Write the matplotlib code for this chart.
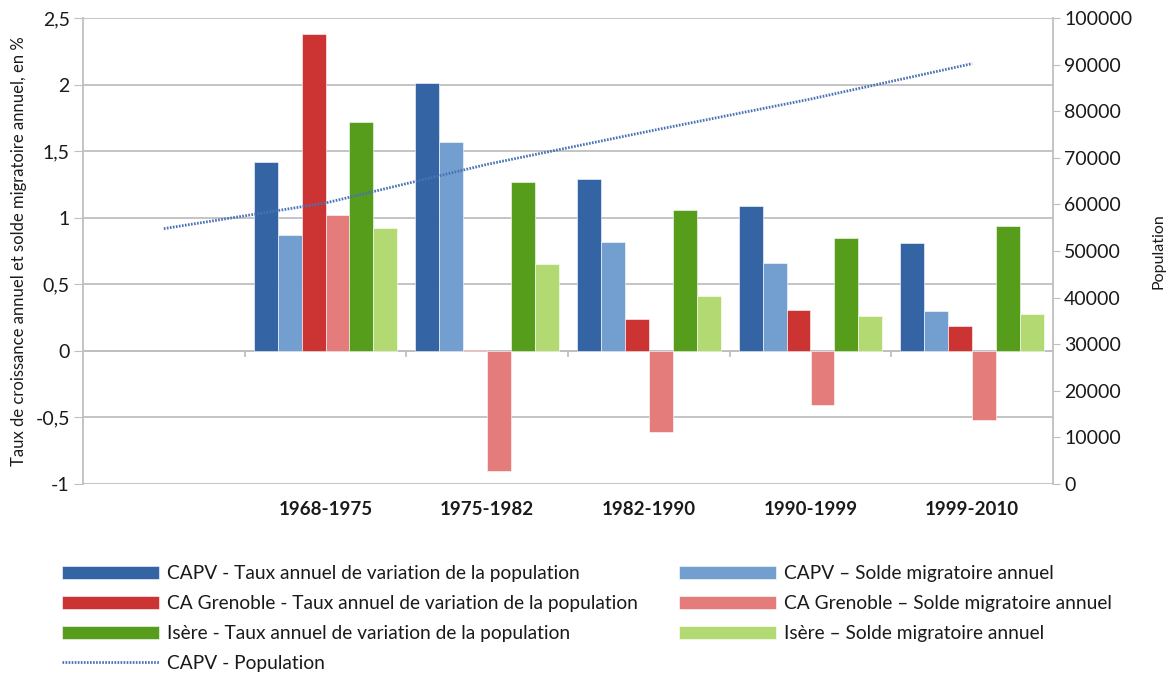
import numpy as np
import matplotlib
matplotlib.use("Agg")
import matplotlib.pyplot as plt
from matplotlib.ticker import FuncFormatter
from matplotlib.patches import Patch
from matplotlib.lines import Line2D

plt.rcParams['font.family'] = ['Lato', 'DejaVu Sans']

# categories (first slot is empty in the original chart)
periodes = ['', '1968-1975', '1975-1982', '1982-1990', '1990-1999', '1999-2010']

capv_taux = [np.nan, 1.42, 2.01, 1.29, 1.09, 0.81]
capv_solde = [np.nan, 0.87, 1.57, 0.82, 0.66, 0.30]
cag_taux = [np.nan, 2.38, 0.01, 0.24, 0.31, 0.19]
cag_solde = [np.nan, 1.02, -0.90, -0.61, -0.41, -0.52]
isere_taux = [np.nan, 1.72, 1.27, 1.06, 0.85, 0.94]
isere_solde = [np.nan, 0.92, 0.65, 0.41, 0.26, 0.28]
capv_pop = [54800, 60300, 68600, 75700, 82600, 90200]

noms = ['CAPV - Taux annuel de variation de la population',
        'CAPV \u2013 Solde migratoire annuel',
        'CA Grenoble - Taux annuel de variation de la population',
        'CA Grenoble \u2013 Solde migratoire annuel',
        'Is\u00e8re - Taux annuel de variation de la population',
        'Is\u00e8re \u2013 Solde migratoire annuel']
couleurs = ['#3464a4', '#729fcf', '#cc3333', '#e57c7c', '#579d1c', '#b3d973']
series = [capv_taux, capv_solde, cag_taux, cag_solde, isere_taux, isere_solde]

fig = plt.figure(figsize=(11.71, 6.75), dpi=100)
ax = fig.add_axes([83/1171, 1-484/675, (1053-83)/1171, (484-18)/675])

x = np.arange(len(periodes))
w = 0.148
grid_c = '#bfbfbf'
for i, (vals, c) in enumerate(zip(series, couleurs)):
    ax.bar(x + (i - 2.5)*w, vals, width=w, color=c, edgecolor='white',
           linewidth=0.4, zorder=3)

ax.set_xlim(-0.5, len(periodes) - 0.5)
ax.set_ylim(-1, 2.5)
ax.set_yticks(np.arange(-1, 2.51, 0.5))
ax.yaxis.set_major_formatter(FuncFormatter(
    lambda v, p: ('%g' % v).replace('.', ',')))
ax.grid(axis='y', color=grid_c, linewidth=1.3, zorder=0)
ax.axhline(0, color=grid_c, linewidth=1.3, zorder=2)
for b in x[:-1] + 0.5:
    ax.plot([b, b], [0, -0.035], color=grid_c, linewidth=1.3, zorder=2,
            clip_on=False)

ax.set_xticks(x)
ax.set_xticklabels(periodes, fontweight='bold', fontsize=13.5, color='#1a1a1a')
ax.tick_params(axis='x', length=0, pad=12)
ax.tick_params(axis='y', length=6.5, color=grid_c, labelsize=14,
               labelcolor='#1a1a1a', pad=3)
for s in ['top', 'right', 'bottom']:
    ax.spines[s].set_visible(False)
ax.spines['left'].set_color(grid_c)
ax.spines['left'].set_linewidth(1.3)
ax.set_ylabel('Taux de croissance annuel et solde migratoire annuel, en %',
              fontsize=12, color='#1a1a1a', labelpad=6)

ax2 = ax.twinx()
ax2.plot(x, capv_pop, color='#4a72b5', linewidth=2.0,
         linestyle=(0, (0.6, 0.5)), zorder=4)
ax2.set_ylim(0, 100000)
ax2.set_yticks(np.arange(0, 100001, 10000))
for s in ['top', 'left', 'bottom']:
    ax2.spines[s].set_visible(False)
ax2.spines['right'].set_color(grid_c)
ax2.spines['right'].set_linewidth(1.3)
ax2.tick_params(axis='y', length=5, color=grid_c, labelsize=14,
                labelcolor='#1a1a1a', pad=3)
ax2.set_ylabel('Population', fontsize=11.5, color='#1a1a1a', labelpad=14)

h_bars = [Patch(facecolor=c, edgecolor='white', linewidth=0.4) for c in couleurs]
h_pop = Line2D([], [], color='#4a72b5', linewidth=2.0, linestyle=(0, (0.6, 0.5)))

leg_kw = dict(frameon=False, fontsize=13.8, handlelength=5.05, handleheight=0.7,
              handletextpad=0.45, labelspacing=0.68, borderaxespad=0,
              borderpad=0, labelcolor='#1a1a1a')
fig.legend([h_bars[0], h_bars[2], h_bars[4], h_pop],
           [noms[0], noms[2], noms[4], 'CAPV - Population'],
           loc='upper left', bbox_to_anchor=(62/1171, 1-565/675), **leg_kw)
fig.legend([h_bars[1], h_bars[3], h_bars[5]],
           [noms[1], noms[3], noms[5]],
           loc='upper left', bbox_to_anchor=(679/1171, 1-565/675), **leg_kw)

fig.savefig('out.png', dpi=100)
